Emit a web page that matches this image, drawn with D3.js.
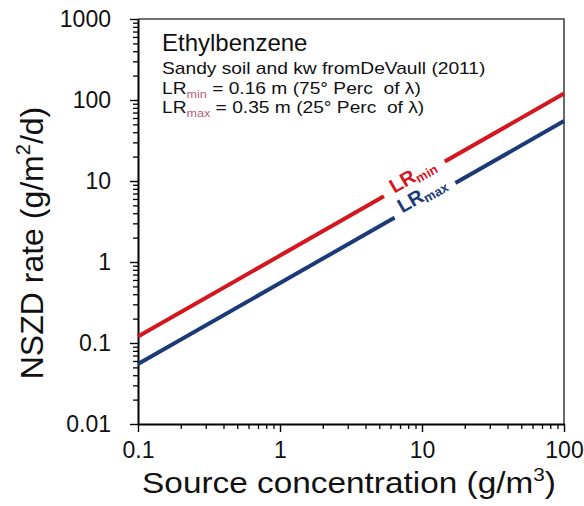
<!DOCTYPE html>
<html>
<head>
<meta charset="utf-8">
<script src="https://cdn.jsdelivr.net/npm/d3@7"></script>
<style>
  html, body { margin: 0; padding: 0; background: #fff; }
  svg { display: block; font-family: Arial, "Liberation Sans", sans-serif; }
  text { white-space: pre; }
</style>
</head>
<body>
<svg id="chart" width="584" height="506"></svg>
<script>
// Source concentration (g/m3) and NSZD rates (g/m2/d) for the two loss-ratio cases
const concentration = [0.1, 1, 10, 100];
const rateLRmin = [0.12, 1.2, 12, 120];
const rateLRmax = [0.055, 0.55, 5.5, 55];

const xTickLabels = ["0.1", "1", "10", "100"];
const yTickLabels = ["0.01", "0.1", "1", "10", "100", "1000"];

const series = [
  { name: "LR", sub: "min", values: rateLRmin, color: "#d4161f", labelAt: 8.65, labelShift: 0 },
  { name: "LR", sub: "max", values: rateLRmax, color: "#1c3a78", labelAt: 10.3, labelShift: -3 }
];

const svg = d3.select("#chart");
const plot = { left: 138, right: 564, top: 19, bottom: 424 };

const x = d3.scaleLog().domain([0.1, 100]).range([plot.left, plot.right]);
const y = d3.scaleLog().domain([0.01, 1000]).range([plot.bottom, plot.top]);

const xMajor = xTickLabels.map(Number);
const yMajor = yTickLabels.map(Number);
const minorOf = (dom) => {
  const out = [];
  for (let p = Math.log10(dom[0]); p < Math.log10(dom[1]); p++) {
    for (let m = 2; m <= 9; m++) out.push(m * Math.pow(10, p));
  }
  return out;
};

// frame (top and right edges)
svg.append("path")
  .attr("d", `M${plot.left},${plot.top}H${plot.right}V${plot.bottom}`)
  .attr("fill", "none").attr("stroke", "#444").attr("stroke-width", 1.6);

// minor ticks
svg.append("g").attr("transform", `translate(${plot.left},0)`)
  .call(d3.axisLeft(y).tickValues(minorOf(y.domain())).tickSize(5).tickFormat(""))
  .call(g => g.select(".domain").remove())
  .selectAll("line").attr("stroke", "#000").attr("stroke-width", 1.3);
svg.append("g").attr("transform", `translate(0,${plot.bottom})`)
  .call(d3.axisBottom(x).tickValues(minorOf(x.domain())).tickSize(5).tickFormat(""))
  .call(g => g.select(".domain").remove())
  .selectAll("line").attr("stroke", "#000").attr("stroke-width", 1.3);

// major ticks with labels
const yAxis = svg.append("g").attr("transform", `translate(${plot.left},0)`)
  .call(d3.axisLeft(y).tickValues(yMajor).tickSize(8).tickSizeOuter(0).tickPadding(19)
    .tickFormat((d, i) => yTickLabels[i]));
const xAxis = svg.append("g").attr("transform", `translate(0,${plot.bottom})`)
  .call(d3.axisBottom(x).tickValues(xMajor).tickSize(8).tickSizeOuter(0).tickPadding(10)
    .tickFormat((d, i) => xTickLabels[i]));

[xAxis, yAxis].forEach(g => {
  g.select(".domain").attr("stroke", "#000").attr("stroke-width", 2);
  g.selectAll(".tick line").attr("stroke", "#000").attr("stroke-width", 1.4);
  g.selectAll(".tick text").attr("fill", "#111").style("font-size", "23px")
    .style("font-family", "Arial, 'Liberation Sans', sans-serif");
});

// line series with a gap where each label sits
const angle = Math.atan2(y(1) - y(10), x(10) - x(1)) * 180 / Math.PI;
const defs = svg.append("defs");
const lineGen = d3.line().x(d => x(d[0])).y(d => y(d[1]));

series.forEach((s, i) => {
  const pts = concentration.map((c, j) => [c, s.values[j]]);
  const yAt = d3.scaleLog().domain(concentration).range(s.values);
  const cx = x(s.labelAt), cy = y(yAt(s.labelAt));

  const mask = defs.append("mask").attr("id", "gap" + i)
    .attr("maskUnits", "userSpaceOnUse").attr("x", 0).attr("y", 0).attr("width", 584).attr("height", 506);
  mask.append("rect").attr("width", 584).attr("height", 506).attr("fill", "#fff");
  mask.append("rect")
    .attr("x", -35).attr("y", -8).attr("width", 70).attr("height", 16)
    .attr("fill", "#000")
    .attr("transform", `translate(${cx},${cy}) rotate(${-angle})`);

  svg.append("path").datum(pts)
    .attr("d", lineGen)
    .attr("fill", "none")
    .attr("stroke", s.color)
    .attr("stroke-width", 4)
    .attr("mask", `url(#gap${i})`);

  const lbl = svg.append("text")
    .attr("transform", `translate(${cx},${cy}) rotate(${-angle}) translate(0,${s.labelShift})`)
    .attr("text-anchor", "middle")
    .attr("dy", "0.35em")
    .attr("fill", s.color)
    .style("font-weight", "bold");
  lbl.append("tspan").style("font-size", "20px").text(s.name);
  lbl.append("tspan").style("font-size", "13px").attr("dy", "3").text(s.sub);
});

// annotation block
svg.append("text").attr("x", 162).attr("y", 51)
  .style("font-size", "24px").attr("fill", "#111").text("Ethylbenzene");

const notes = [
  { y: 74, parts: [["Sandy soil and kw fromDeVaull (2011)", null]] },
  { y: 93.5, parts: [["LR", null], ["min", "sub"], [" = 0.16 m (75° Perc  of λ)", null]] },
  { y: 112.5, parts: [["LR", null], ["max", "sub"], [" = 0.35 m (25° Perc  of λ)", null]] }
];
notes.forEach(n => {
  const t = svg.append("text")
    .attr("transform", `translate(162,${n.y}) scale(1.2,1)`)
    .style("font-size", "16px").attr("fill", "#111");
  n.parts.forEach(([txt, kind]) => {
    const sp = t.append("tspan").text(txt);
    if (kind === "sub") {
      sp.style("font-size", "10.5px").attr("dy", 4).attr("fill", "#b85c7c");
    } else if (t.selectAll("tspan").size() > 1) {
      sp.attr("dy", -4);
    }
  });
});

// axis titles
const xt = svg.append("text")
  .attr("transform", `translate(349,493) scale(1.15,1)`)
  .attr("text-anchor", "middle")
  .style("font-size", "29px").attr("fill", "#111");
xt.append("tspan").text("Source concentration (g/m");
xt.append("tspan").style("font-size", "18px").attr("dy", -12).text("3");
xt.append("tspan").attr("dy", 12).text(")");

const yt = svg.append("text")
  .attr("transform", `translate(43,243) rotate(-90)`)
  .attr("text-anchor", "middle")
  .style("font-size", "32px").attr("fill", "#111");
yt.append("tspan").text("NSZD rate (g/m");
yt.append("tspan").style("font-size", "20px").attr("dy", -13).text("2");
yt.append("tspan").attr("dy", 13).text("/d)");
</script>
</body>
</html>
